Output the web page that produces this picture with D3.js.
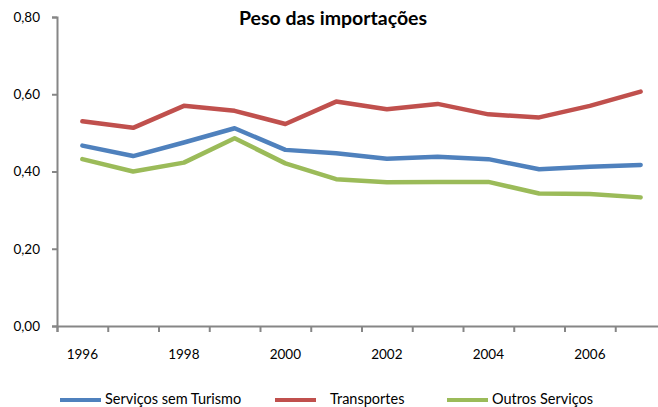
<!DOCTYPE html>
<html>
<head>
<meta charset="utf-8">
<script src="https://cdn.jsdelivr.net/npm/d3@7"></script>
<style>
  body { margin: 0; background: #fff; }
  svg text { font-family: Lato, "Open Sans", sans-serif; fill: #000; }
</style>
</head>
<body>
<div id="chart"></div>
<script>
const years = [1996, 1997, 1998, 1999, 2000, 2001, 2002, 2003, 2004, 2005, 2006, 2007];
const servicosSemTurismo = [0.467, 0.440, 0.475, 0.512, 0.456, 0.447, 0.433, 0.438, 0.432, 0.406, 0.412, 0.417];
const transportes = [0.530, 0.513, 0.570, 0.557, 0.523, 0.581, 0.561, 0.575, 0.548, 0.540, 0.570, 0.607];
const outrosServicos = [0.432, 0.400, 0.423, 0.486, 0.421, 0.380, 0.372, 0.373, 0.373, 0.343, 0.342, 0.333];
const seriesNames = ['Serviços sem Turismo', 'Transportes', 'Outros Serviços'];
const seriesColors = ['#4F81BD', '#C0504D', '#9BBB59'];
const yTicks = [0, 0.2, 0.4, 0.6, 0.8];
const xLabels = [1996, 1998, 2000, 2002, 2004, 2006];

const width = 658, height = 407;
const plotLeft = 57, plotTop = 17, plotBottom = 326;
const step = 50.75;

const svg = d3.select('#chart').append('svg')
    .attr('width', width)
    .attr('height', height);

const y = d3.scaleLinear().domain([0, 0.8]).range([plotBottom, plotTop]);
// category index scale: boundaries at integers, points at half steps
const xi = d3.scaleLinear().domain([0, years.length]).range([plotLeft, plotLeft + step * years.length]);
const x = yr => xi(years.indexOf(yr) + 0.5);

const fmt = d => d3.format('.2f')(d).replace('.', ',');

// y axis
const yAxis = svg.append('g')
    .attr('transform', `translate(${plotLeft},0)`)
    .call(d3.axisLeft(y).tickValues(yTicks).tickSize(5).tickFormat(fmt));
yAxis.select('.domain').attr('stroke', '#868686').attr('stroke-width', 2);
yAxis.selectAll('.tick line').attr('stroke', '#868686').attr('stroke-width', 2);
yAxis.selectAll('.tick text')
    .attr('x', -17)
    .style('font-size', '13.5px');

// x axis (category boundaries)
const xAxis = svg.append('g')
    .attr('transform', `translate(0,${plotBottom})`)
    .call(d3.axisBottom(xi).tickValues(d3.range(0, years.length + 1)).tickSize(6).tickFormat(''));
xAxis.select('.domain').attr('stroke', '#868686').attr('stroke-width', 2);
xAxis.selectAll('.tick line').attr('stroke', '#868686').attr('stroke-width', 2);

svg.append('g').selectAll('text')
    .data(xLabels)
    .enter()
    .append('text')
    .attr('x', d => x(d))
    .attr('y', 359)
    .attr('text-anchor', 'middle')
    .style('font-size', '13.5px')
    .text(d => d);

// lines
const allSeries = [servicosSemTurismo, transportes, outrosServicos];
const line = d3.line()
    .x((d, i) => x(years[i]))
    .y(d => y(d));

svg.append('g').selectAll('path')
    .data(allSeries)
    .enter()
    .append('path')
    .attr('d', line)
    .attr('fill', 'none')
    .attr('stroke', (d, i) => seriesColors[i])
    .attr('stroke-width', 4.5)
    .attr('stroke-linejoin', 'round')
    .attr('stroke-linecap', 'round');

// title
svg.append('text')
    .attr('x', 333)
    .attr('y', 25)
    .attr('text-anchor', 'middle')
    .style('font-size', '19.5px')
    .style('font-weight', 'bold')
    .text('Peso das importações');

// legend
const legendX = [60, 275, 447];
const legend = svg.append('g').selectAll('g')
    .data(seriesNames)
    .enter()
    .append('g')
    .attr('transform', (d, i) => `translate(${legendX[i]},400)`);

legend.append('line')
    .attr('x1', 0).attr('x2', 41)
    .attr('stroke', (d, i) => seriesColors[i])
    .attr('stroke-width', 4);

legend.append('text')
    .attr('x', (d, i) => i === 1 ? 55 : 45)
    .attr('y', 4)
    .style('font-size', '14.5px')
    .text(d => d);
</script>
</body>
</html>
